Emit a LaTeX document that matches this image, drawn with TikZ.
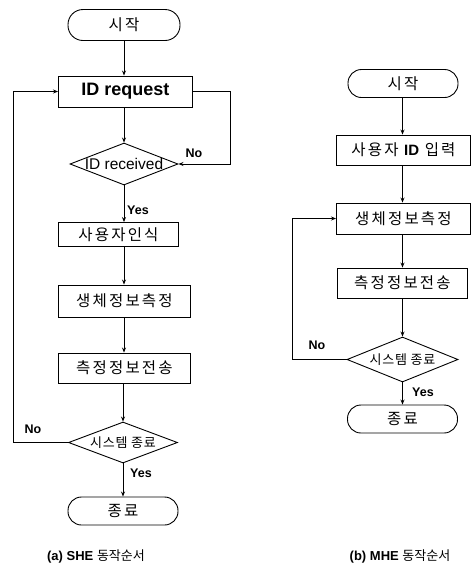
\documentclass[tikz,border=0pt]{standalone}
\usepackage{fontspec}
\setmainfont{Liberation Sans}
\newfontfamily\kr{Noto Sans CJK KR}[LetterSpace=14]
\newfontfamily\krd{Noto Sans CJK KR}[LetterSpace=6]
\newfontfamily\krcap{Noto Sans CJK KR}
\usetikzlibrary{shapes.geometric,arrows.meta}

\begin{document}
\begin{tikzpicture}[x=1pt,y=-1pt,
  line width=0.9pt,
  >={Stealth[length=5pt,width=4pt]},
  flowbox/.style={draw,rectangle,anchor=west,inner sep=1pt,minimum height=30pt,
    font=\kr\fontsize{15.5}{17}\selectfont},
  term/.style={draw,rectangle,rounded corners=13.5pt,minimum height=28pt,
    minimum width=110pt,inner sep=1pt,font=\kr\fontsize{15.5}{17}\selectfont},
  decide/.style={draw,diamond,inner sep=0pt,minimum width=108pt,minimum height=42pt},
  dtext/.style={font=\krd\fontsize{13}{15}\selectfont},
  lbl/.style={font=\bfseries\fontsize{12.5}{14}\selectfont,inner sep=1pt},
  caption/.style={font=\fontsize{13}{15}\selectfont}]

\useasboundingbox (0,0) rectangle (474,571);

% ---------- (a) SHE ----------
\node[term,minimum width=112pt,minimum height=31pt,rounded corners=15pt] (s1) at (124,25) {시작};
\node[flowbox,minimum width=134pt,minimum height=31pt,
  font=\bfseries\fontsize{18}{20}\selectfont] (idreq) at (58,91.5) {ID request};
\node[decide,font=\fontsize{15.5}{17}\selectfont] (idrcv) at (124,164) {\makebox[0pt]{ID received}};
\node[flowbox,minimum width=120pt,minimum height=24pt] (user) at (58,234.5) {사용자인식};
\node[flowbox,minimum width=132pt,minimum height=32pt] (bio1) at (58,301) {생체정보측정};
\node[flowbox,minimum width=132pt,minimum height=30pt] (send1) at (58,368) {측정정보전송};
\node[decide,minimum width=109pt,minimum height=41pt,dtext] (sys1) at (123,442.5) {\makebox[0pt]{시스템 종료}};
\node[term] (e1) at (123,511) {종료};

\draw[->] (s1.south -| idrcv) -- (idreq.north -| idrcv);
\draw[->] (idreq.south -| idrcv) -- (idrcv.north);
\draw[->] (idreq.east) -- ++(38,0) |- (idrcv.east);
\draw[->] (idrcv.south) -- (idrcv.south |- user.north);
\draw[->] (user.south -| idrcv) -- (bio1.north -| idrcv);
\draw[->] (bio1.south -| idrcv) -- (send1.north -| idrcv);
\draw[->] (send1.south -| sys1) -- (sys1.north);
\draw[->] (sys1.south) -- (e1.north);
\draw[->] (sys1.west) -- ++(-55,0) |- (idreq.west);

\node[lbl] (no1) at (194,153) {No};
\node[lbl] (yes1) at (138,210) {Yes};
\node[lbl] (no2) at (33,429) {No};
\node[lbl] (yes2) at (141,473) {Yes};

\node[caption] (capa) at (96,556) {\textbf{(a) SHE} {\krcap 동작순서}};

% ---------- (b) MHE ----------
\node[term] (s2) at (403,83.5) {시작};
\node[flowbox,minimum width=134pt] (uid) at (336,150) {사용자 {\normalfont\bfseries\fontsize{15}{17}\selectfont ID} 입력};
\node[flowbox,minimum width=134pt,minimum height=31pt] (bio2) at (336,218.5) {생체정보측정};
\node[flowbox,minimum width=130pt] (send2) at (337,283) {측정정보전송};
\node[decide,minimum width=111pt,minimum height=45pt,dtext] (sys2) at (402.5,359.5) {\makebox[0pt]{시스템 종료}};
\node[term] (e2) at (402.5,419) {종료};

\draw[->] (s2.south -| sys2) -- (uid.north -| sys2);
\draw[->] (uid.south -| sys2) -- (bio2.north -| sys2);
\draw[->] (bio2.south -| sys2) -- (send2.north -| sys2);
\draw[->] (send2.south -| sys2) -- (sys2.north);
\draw[->] (sys2.south) -- (e2.north);
\draw[->] (sys2.west) -- ++(-54,0) |- (bio2.west);

\node[lbl] (no3) at (317,345) {No};
\node[lbl] (yes3) at (423,392) {Yes};

\node[caption] (capb) at (400,556) {\textbf{(b) MHE} {\krcap 동작순서}};
\end{tikzpicture}
\end{document}
